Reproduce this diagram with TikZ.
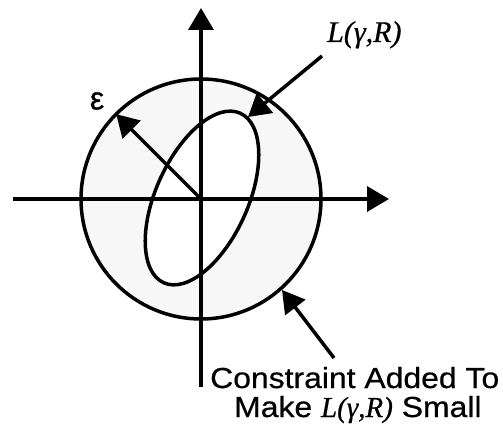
\documentclass[tikz,border=0pt]{standalone}
\usepackage{fontspec}
\setmainfont{Liberation Serif}
\newfontfamily\capfont[FakeStretch=1.1,FakeBold=0.6]{Liberation Sans}
\newfontfamily\epsfont[FakeBold=1]{Liberation Sans}
\newfontfamily\itfont[FakeBold=0.6]{Liberation Serif Italic}
\usetikzlibrary{arrows.meta,calc}
\tikzset{
  line/.style={line width=3.5pt},
  bigarrow/.style={line width=3.5pt,-{Triangle[length=22pt,width=25pt]}},
  caption/.style={font=\capfont\fontsize{29}{29}\selectfont,inner sep=0pt},
  serifit/.style={font=\itfont\fontsize{30}{30}\selectfont,inner sep=0pt},
}
\begin{document}
\begin{tikzpicture}[x=1pt,y=1pt]
\useasboundingbox (0,0) rectangle (503,434);
\coordinate (O) at (201,235);
% shaded annulus
\fill[black!3,even odd rule] (O) circle (120)
  [rotate around={65.7:(202,236)}] (202,236) ellipse (93 and 46);
% axes
\coordinate (xl) at (13,235);
\coordinate (xr) at (389,235);
\coordinate (yb) at (201,47);
\coordinate (yt) at (201,426);
\draw[bigarrow] (xl) -- (xr);
\draw[bigarrow] (yb) -- (yt);
% circle and ellipse
\draw[line] (O) circle (120);
\draw[line,rotate around={65.7:(202,236)}] (202,236) ellipse (93 and 46);
% epsilon radius
\coordinate (E) at ($(O)+(135:120)$);
\draw[bigarrow] (O) -- (E);
\node[font=\epsfont\fontsize{32}{32}\selectfont,inner sep=0pt] (eps) at (97,333) {ε};
% L label
\node[serifit,anchor=base west] (L) at (327,392) {L(γ,R)};
\coordinate (La) at (322,378);
\coordinate (Lt) at (248,317);
\draw[bigarrow] (La) -- (Lt);
% constraint label
\node[caption,anchor=base west] (c1) at (210,46) {Constraint Added To};
\node[caption,anchor=base west] (c2) at (234,17) {Make {\itfont L(γ,R)} Small};
\coordinate (Ca) at (334,76);
\coordinate (Ct) at (282,144);
\draw[bigarrow] (Ca) -- (Ct);
\end{tikzpicture}
\end{document}
